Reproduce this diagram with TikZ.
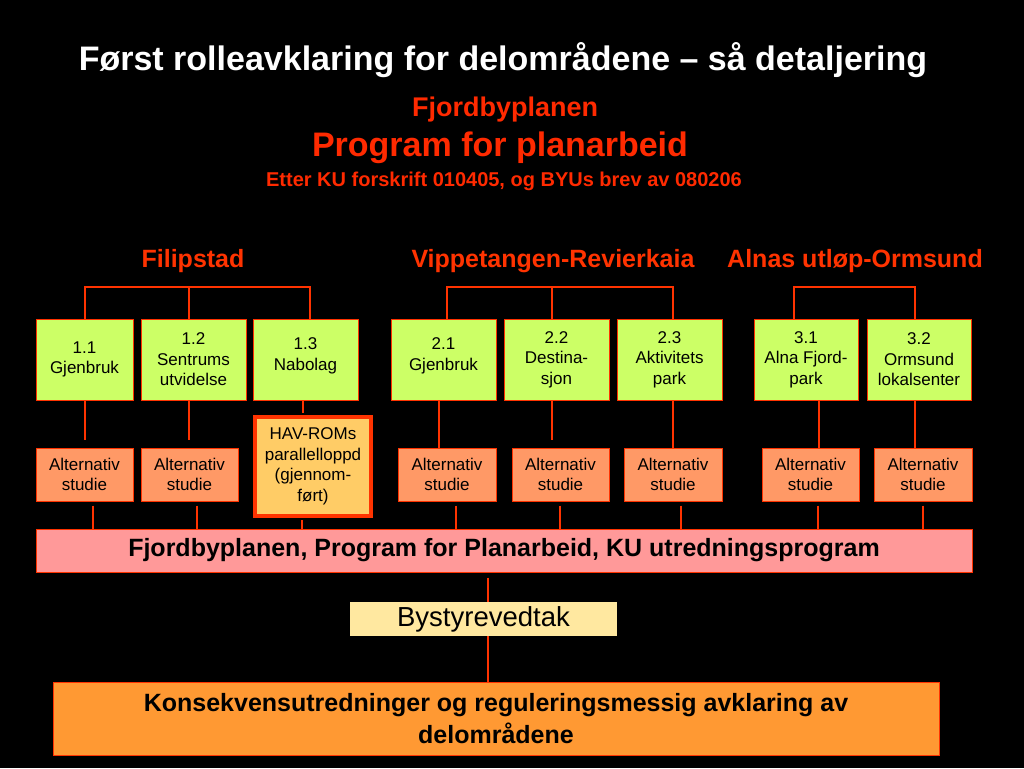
\documentclass[tikz,border=0pt]{standalone}
\usepackage{fontspec}
\setmainfont{Liberation Sans}
\definecolor{lc}{HTML}{FF3300}
\definecolor{redtxt}{HTML}{FF2A00}
\definecolor{greenbox}{HTML}{CCFF66}
\definecolor{altbox}{HTML}{FF9966}
\definecolor{havbox}{HTML}{FFCC66}
\definecolor{pinkbox}{HTML}{FF9999}
\definecolor{bybox}{HTML}{FFE8A0}
\definecolor{orbox}{HTML}{FF9933}
\tikzset{
  conn/.style={draw=lc, line width=1.2pt},
  basebox/.style={draw=lc, line width=1pt, inner sep=0pt, align=center, text=black},
  areabox/.style={basebox, fill=greenbox, minimum width=#1, minimum height=81pt, font=\fontsize{17}{20.5}\selectfont},
  altstyle/.style={basebox, fill=altbox, minimum width=#1, minimum height=53pt, font=\fontsize{17}{20.5}\selectfont},
  hdr/.style={text=lc, font=\fontsize{25}{30}\selectfont\bfseries},
}
\begin{document}
\begin{tikzpicture}[x=1pt,y=-1pt]
\fill[black] (0,0) rectangle (1024,768);
\useasboundingbox (0,0) rectangle (1024,768);

% titles
\node[text=white, font=\fontsize{34}{40}\selectfont\bfseries] (title) at (503,60) {Først rolleavklaring for delområdene – så detaljering};
\node[text=redtxt, font=\fontsize{27}{32}\selectfont\bfseries] (sub1) at (505,110) {Fjordbyplanen};
\node[text=redtxt, font=\fontsize{34}{40}\selectfont\bfseries] (sub2) at (500,148) {Program for planarbeid};
\node[text=redtxt, font=\fontsize{20}{24}\selectfont\bfseries] (sub3) at (504,181) {Etter KU forskrift 010405, og BYUs brev av 080206};

% headers
\node[hdr] (h1) at (193,261) {Filipstad};
\node[hdr] (h2) at (553,261) {Vippetangen-Revierkaia};
\node[hdr] (h3) at (855,261) {Alnas utløp-Ormsund};

% row 1
\node[areabox=97pt]  (b11) at (84.5,359.5) {1.1\\Gjenbruk};
\node[areabox=105pt] (b12) at (193.5,359.5) {1.2\\Sentrums\\utvidelse};
\node[areabox=105pt] (b13) at (305.5,359.5) {1.3\\Nabolag\\[-16pt]\strut};
\node[areabox=105pt] (b21) at (443.5,359.5) {2.1\\Gjenbruk\\[-16pt]\strut};
\node[areabox=105pt] (b22) at (556.5,359.5) {2.2\\Destina-\\sjon};
\node[areabox=105pt] (b23) at (669.5,359.5) {2.3\\Aktivitets\\park};
\node[areabox=104pt] (b31) at (806,359.5) {3.1\\Alna Fjord-\\park};
\node[areabox=104pt] (b32) at (919,359.5) {3.2\\Ormsund\\lokalsenter};

% row 2
\node[altstyle=97pt] (a11) at (84.5,474.5) {Alternativ\\studie};
\node[altstyle=97pt] (a12) at (189.5,474.5) {Alternativ\\studie};
\node[basebox, fill=havbox, line width=4pt, minimum width=116pt, minimum height=99pt, font=\fontsize{17}{20.5}\selectfont] (hav) at (313,466.5) {HAV-ROMs\\parallelloppd\\(gjennom-\\ført)};
\node[altstyle=98pt] (a21) at (447,474.5) {Alternativ\\studie};
\node[altstyle=97pt] (a22) at (560.5,474.5) {Alternativ\\studie};
\node[altstyle=98pt] (a23) at (673,474.5) {Alternativ\\studie};
\node[altstyle=97pt] (a31) at (810.5,474.5) {Alternativ\\studie};
\node[altstyle=98pt] (a32) at (923,474.5) {Alternativ\\studie};

% bars
\node[basebox, fill=pinkbox, minimum width=936pt, minimum height=43pt, font=\fontsize{25}{30}\selectfont\bfseries] (pink) at (504,550.5) {Fjordbyplanen, Program for Planarbeid, KU utredningsprogram};
\node[inner sep=0pt, fill=bybox, minimum width=267pt, minimum height=34pt, font=\fontsize{27.5}{32}\selectfont] (by) at (483.5,619) {Bystyrevedtak};
\node[basebox, fill=orbox, minimum width=886pt, minimum height=73pt, font=\fontsize{25}{32}\selectfont\bfseries] (kons) at (496,718.5) {Konsekvensutredninger og reguleringsmessig avklaring av\\delområdene};

% x guide coordinates
\foreach \xx in {85,189,310,303,447,552,673,439,794,915,819,93,197,302,456,560,681,818,923,488}
  \coordinate (x\xx) at (\xx,0);
\coordinate (top1) at (0,287);

% brackets
\draw[conn] (b11.north -| x85) |- (top1 -| x310) -- (b13.north -| x310);
\draw[conn] (top1 -| x189) -- (b12.north -| x189);
\draw[conn] (b21.north -| x447) |- (top1 -| x673) -- (b23.north -| x673);
\draw[conn] (top1 -| x552) -- (b22.north -| x552);
\draw[conn] (b31.north -| x794) |- (top1 -| x915) -- (b32.north -| x915);

% row1 -> row2
\coordinate (g1) at (85,440);
\coordinate (g2) at (189,440);
\coordinate (g3) at (552,440);
\draw[conn] (b11.south -| x85) -- (g1);
\draw[conn] (b12.south -| x189) -- (g2);
\draw[conn] (b13.south -| x303) -- ([yshift=2pt]hav.north -| x303);
\draw[conn] (b21.south -| x439) -- (a21.north -| x439);
\draw[conn] (b22.south -| x552) -- (g3);
\draw[conn] (b23.south -| x673) -- (a23.north -| x673);
\draw[conn] (b31.south -| x819) -- (a31.north -| x819);
\draw[conn] (b32.south -| x915) -- (a32.north -| x915);

% row2 -> pink
\draw[conn] ([yshift=-4pt]a11.south -| x93) -- (pink.north -| x93);
\draw[conn] ([yshift=-4pt]a12.south -| x197) -- (pink.north -| x197);
\draw[conn] ([yshift=-2pt]hav.south -| x302) -- (pink.north -| x302);
\draw[conn] ([yshift=-4pt]a21.south -| x456) -- (pink.north -| x456);
\draw[conn] ([yshift=-4pt]a22.south -| x560) -- (pink.north -| x560);
\draw[conn] ([yshift=-4pt]a23.south -| x681) -- (pink.north -| x681);
\draw[conn] ([yshift=-4pt]a31.south -| x818) -- (pink.north -| x818);
\draw[conn] ([yshift=-4pt]a32.south -| x923) -- (pink.north -| x923);

% pink -> by -> kons
\draw[conn] ([yshift=-5pt]pink.south -| x488) -- (by.north -| x488);
\draw[conn] (by.south -| x488) -- (kons.north -| x488);
\end{tikzpicture}
\end{document}
